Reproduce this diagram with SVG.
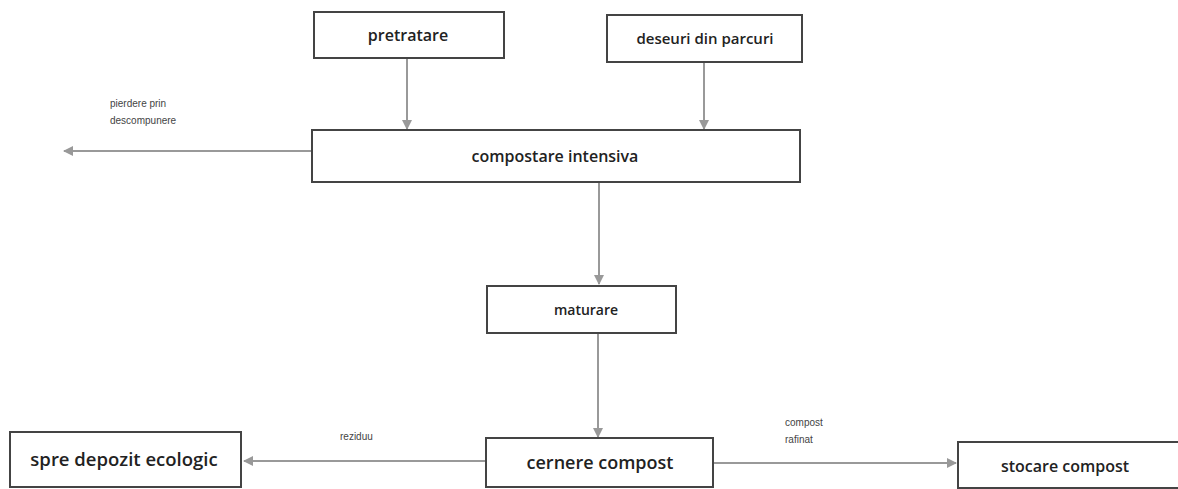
<svg xmlns="http://www.w3.org/2000/svg" width="1178" height="489" viewBox="0 0 1178 489">
<defs>
<style>
.box{fill:#fff;stroke:#444;stroke-width:2}
.t{font-family:"Open Sans","Liberation Sans",sans-serif;font-size:16px;font-weight:600;fill:#222;text-anchor:middle}
.s{font-family:"Liberation Sans",sans-serif;font-size:10px;fill:#444}
.c{stroke:#999;stroke-width:2;fill:none;marker-end:url(#ah)}
</style>
<marker id="ah" viewBox="0 0 10 10" refX="9" refY="5" markerWidth="5" markerHeight="5" orient="auto-start-reverse">
<path d="M0,0 L10,5 L0,10 z" fill="#999"/>
</marker>
</defs>
<rect width="1178" height="489" fill="#fff"/>
<g id="connectors">
<line class="c" x1="407" y1="59" x2="407" y2="129"/>
<line class="c" x1="704" y1="63" x2="704" y2="129"/>
<line class="c" x1="311" y1="151" x2="64" y2="151"/>
<line class="c" x1="599" y1="183" x2="599" y2="284"/>
<line class="c" x1="598" y1="334" x2="598" y2="437"/>
<line class="c" x1="485" y1="461" x2="244" y2="461"/>
<line class="c" x1="714" y1="463" x2="956" y2="463"/>
</g>
<g id="labels">
<text class="s" x="110" y="107">pierdere prin</text>
<text class="s" x="110" y="124">descompunere</text>
<text class="s" x="340" y="440">reziduu</text>
<text class="s" x="785" y="426">compost</text>
<text class="s" x="785" y="443">rafinat</text>
</g>
<g id="pretratare"><rect class="box" x="314" y="12" width="190" height="46"/><text class="t" x="408" y="41">pretratare</text></g>
<g id="deseuri"><rect class="box" x="607" y="15" width="195" height="47"/><text class="t" x="705" y="44" style="font-size:15px">deseuri din parcuri</text></g>
<g id="compostare"><rect class="box" x="312" y="130" width="488" height="52"/><text class="t" x="555" y="162">compostare intensiva</text></g>
<g id="maturare"><rect class="box" x="487" y="286" width="189" height="47"/><text class="t" x="586" y="315" style="font-size:14px">maturare</text></g>
<g id="cernere"><rect class="box" x="486" y="438" width="227" height="49"/><text class="t" x="600" y="469" style="font-size:18px">cernere compost</text></g>
<g id="depozit"><rect class="box" x="10" y="432" width="231" height="55"/><text class="t" x="124" y="466" style="font-size:18.5px">spre depozit ecologic</text></g>
<g id="stocare"><path class="box" d="M1180,442 L958,442 L958,488 L1180,488"/><text class="t" x="1065" y="472">stocare compost</text></g>
</svg>
